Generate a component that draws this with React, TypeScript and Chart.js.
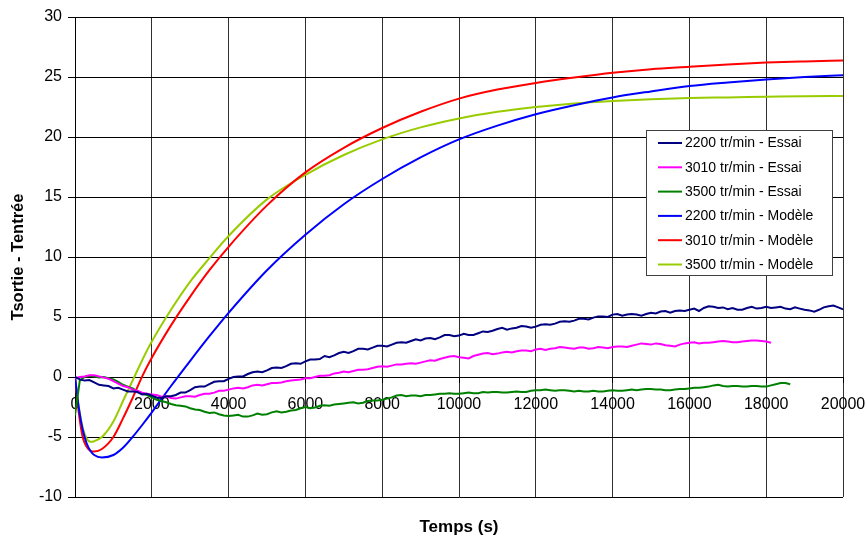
import React, { useEffect, useRef } from "react";
import { Chart, registerables } from "chart.js";

Chart.register(...registerables);

// ---- axis settings ----
const xMin = 0;
const xMax = 20000;
const xStep = 2000;
const yMin = -10;
const yMax = 30;
const yStep = 5;

// ---- series labels and colours ----
const seriesLabels = [
  "2200 tr/min - Essai",
  "3010 tr/min - Essai",
  "3500 tr/min - Essai",
  "2200 tr/min - Modèle",
  "3010 tr/min - Modèle",
  "3500 tr/min - Modèle",
];
const seriesColors = ["#000080", "#FF00FF", "#008000", "#0000FF", "#FF0000", "#99CC00"];

// ---- measured series (sampled every 125 s) ----
const essaiStep = 125;
const essai2200 = [
  0, -0.2, -0.3, -0.25, -0.45, -0.65, -0.7, -0.75, -0.95, -0.9,
  -1.05, -1.2, -1.2, -1.25, -1.45, -1.4, -1.55, -1.7, -1.75, -1.6,
  -1.6, -1.5, -1.3, -1.3, -1.1, -0.85, -0.8, -0.8, -0.6, -0.4,
  -0.35, -0.35, -0.15, 0.0, 0.05, 0.05, 0.25, 0.4, 0.45, 0.4,
  0.55, 0.75, 0.8, 0.75, 0.9, 1.1, 1.15, 1.1, 1.3, 1.45,
  1.45, 1.5, 1.75, 1.65, 1.8, 2.0, 2.1, 2.0, 2.15, 2.35,
  2.35, 2.3, 2.45, 2.6, 2.6, 2.55, 2.7, 2.85, 2.9, 2.85,
  3.0, 3.15, 3.05, 3.2, 3.25, 3.15, 3.3, 3.5, 3.5, 3.4,
  3.45, 3.6, 3.5, 3.5, 3.65, 3.8, 3.75, 3.85, 4.0, 4.1,
  3.95, 4.05, 4.1, 4.25, 4.2, 4.1, 4.2, 4.35, 4.4, 4.35,
  4.45, 4.6, 4.65, 4.6, 4.7, 4.85, 4.85, 4.8, 4.95, 5.05,
  5.05, 5.0, 5.2, 5.25, 5.1, 5.2, 5.25, 5.2, 5.1, 5.25,
  5.35, 5.3, 5.45, 5.5, 5.35, 5.5, 5.55, 5.5, 5.6, 5.7,
  5.5, 5.75, 5.9, 5.85, 5.75, 5.8, 5.65, 5.75, 5.6, 5.6,
  5.75, 5.85, 5.7, 5.75, 5.85, 5.75, 5.8, 5.85, 5.7, 5.65,
  5.8, 5.7, 5.6, 5.55, 5.45, 5.6, 5.8, 5.9, 5.95, 5.8,
  5.65,
];
const essai3010 = [
  -0.1, 0.0, 0.05, 0.15, 0.15, 0.05, -0.05, -0.15, -0.35, -0.55,
  -0.75, -0.85, -1.05, -1.15, -1.3, -1.4, -1.45, -1.5, -1.65, -1.6,
  -1.75, -1.8, -1.7, -1.6, -1.6, -1.65, -1.5, -1.4, -1.4, -1.3,
  -1.15, -1.15, -1.05, -0.95, -0.9, -0.95, -0.85, -0.7, -0.65, -0.7,
  -0.6, -0.5, -0.5, -0.45, -0.35, -0.3, -0.25, -0.2, -0.1, -0.1,
  0.0, 0.1, 0.1, 0.15, 0.3, 0.35, 0.45, 0.4, 0.5, 0.6,
  0.6, 0.65, 0.75, 0.85, 0.9, 0.85, 0.95, 1.05, 1.05, 1.1,
  1.15, 1.1, 1.2, 1.3, 1.4, 1.35, 1.5, 1.6, 1.7, 1.75,
  1.65, 1.6, 1.55, 1.75, 1.85, 1.95, 2.0, 1.9, 1.95, 2.05,
  2.1, 2.05, 2.15, 2.2, 2.2, 2.15, 2.3, 2.35, 2.25, 2.35,
  2.4, 2.5, 2.45, 2.4, 2.35, 2.45, 2.45, 2.35, 2.4, 2.5,
  2.45, 2.4, 2.5, 2.55, 2.55, 2.5, 2.6, 2.7, 2.8, 2.75,
  2.7, 2.8, 2.75, 2.65, 2.6, 2.55, 2.7, 2.8, 2.85, 2.9,
  2.8, 2.85, 2.85, 2.9, 2.95, 3.0, 2.95, 2.9, 2.9, 2.95,
  3.0, 3.05, 3.05, 3.0, 2.95, 2.85,
];
const essai3500 = [
  -3.2, -0.3, 0.0, 0.1, 0.05, -0.05, 0.0, -0.1, -0.2, -0.4,
  -0.65, -0.8, -0.95, -1.2, -1.4, -1.5, -1.7, -1.9, -2.0, -2.1,
  -2.25, -2.35, -2.4, -2.45, -2.6, -2.7, -2.75, -2.9, -3.0, -2.95,
  -3.1, -3.2, -3.25, -3.2, -3.15, -3.3, -3.3, -3.2, -3.05, -3.15,
  -3.1, -2.95, -2.85, -2.95, -2.9, -2.8, -2.75, -2.6, -2.5, -2.6,
  -2.55, -2.4, -2.35, -2.4, -2.3, -2.25, -2.2, -2.15, -2.1, -2.2,
  -2.15, -2.0, -1.95, -1.95, -1.9, -1.8, -1.7, -1.55, -1.5, -1.6,
  -1.55, -1.55, -1.6, -1.5, -1.5, -1.45, -1.4, -1.4, -1.35, -1.4,
  -1.4, -1.35, -1.3, -1.35, -1.35, -1.25, -1.3, -1.25, -1.25, -1.3,
  -1.3, -1.25, -1.2, -1.25, -1.25, -1.15, -1.1, -1.1, -1.05, -1.1,
  -1.15, -1.1, -1.1, -1.15, -1.2, -1.15, -1.2, -1.2, -1.15, -1.2,
  -1.2, -1.15, -1.1, -1.15, -1.15, -1.1, -1.05, -1.1, -1.05, -1.0,
  -1.0, -1.05, -1.05, -1.1, -1.1, -1.05, -1.0, -1.0, -0.95, -0.9,
  -0.9, -0.85, -0.8, -0.7, -0.65, -0.75, -0.8, -0.75, -0.75, -0.8,
  -0.8, -0.75, -0.75, -0.8, -0.8, -0.7, -0.6, -0.5, -0.5, -0.6,
];

// ---- model series ----
const modelTimes = [
  0, 100, 200, 300, 400, 500, 700, 1000, 1250, 1500, 1750, 2000, 2500, 3000, 3500, 4000,
  5000, 6000, 7000, 8000, 9000, 10000, 11000, 12000, 13000, 14000, 15000, 16000, 17000, 18000, 19000, 20000,
];
const modele2200 = [
  0, -2.6, -4.4, -5.5, -6.15, -6.5, -6.7, -6.5, -5.9, -5.0, -4.0, -2.95, -0.75, 1.35, 3.4, 5.35,
  8.9, 11.86, 14.4, 16.5, 18.3, 19.8, 20.95, 21.9, 22.65, 23.3, 23.8, 24.25, 24.55, 24.8, 25.0, 25.15,
];
const modele3010 = [
  0, -3.0, -5.0, -5.8, -6.15, -6.2, -6.0, -5.0, -3.45, -1.75, 0.05, 1.6, 4.3, 6.7, 8.9, 10.85,
  14.3, 17.05, 19.1, 20.75, 22.1, 23.2, 23.95, 24.5, 24.95, 25.35, 25.65, 25.85, 26.05, 26.2, 26.3, 26.38,
];
const modele3500 = [
  0, -2.5, -4.2, -5.1, -5.4, -5.35, -5.0, -3.7, -2.0, -0.3, 1.4, 2.95, 5.6, 7.95, 9.9, 11.75,
  14.8, 16.85, 18.5, 19.8, 20.8, 21.55, 22.1, 22.5, 22.8, 23.0, 23.15, 23.25, 23.3, 23.35, 23.4, 23.42,
];

const xTitle = "Temps (s)";
const yTitle = "Tsortie - Tentrée";

const FONT = '"Liberation Sans", Arial, Helvetica, sans-serif';

function essaiPoints(values: number[]) {
  return values.map((v, i) => ({ x: i * essaiStep, y: v }));
}
function modelPoints(values: number[]) {
  return values.map((v, i) => ({ x: modelTimes[i], y: v }));
}

const boxLegend = {
  id: "boxLegend",
  afterDatasetsDraw(chart: any) {
    const ctx = chart.ctx;
    ctx.save();
    const x0 = 646.5;
    const y0 = 130.5;
    const w = 186;
    const h = 145;
    ctx.fillStyle = "#ffffff";
    ctx.fillRect(x0, y0, w, h);
    ctx.strokeStyle = "#404040";
    ctx.lineWidth = 1;
    ctx.strokeRect(x0, y0, w, h);
    ctx.font = `14px ${FONT}`;
    ctx.textBaseline = "middle";
    ctx.textAlign = "left";
    chart.data.datasets.forEach((ds: any, i: number) => {
      const y = 143 + i * 24.3;
      ctx.strokeStyle = ds.borderColor;
      ctx.lineWidth = 2;
      ctx.beginPath();
      ctx.moveTo(658, y);
      ctx.lineTo(682, y);
      ctx.stroke();
      ctx.fillStyle = "#000";
      ctx.fillText(ds.label, 685, y + 0.5);
    });
    ctx.restore();
  },
};

const bottomTitle = {
  id: "bottomTitle",
  afterDraw(chart: any) {
    const ctx = chart.ctx;
    const area = chart.chartArea;
    ctx.save();
    ctx.font = `bold 17px ${FONT}`;
    ctx.fillStyle = "#000";
    ctx.textAlign = "center";
    ctx.textBaseline = "middle";
    ctx.fillText(xTitle, (area.left + area.right) / 2, 527);
    ctx.restore();
  },
};

export default function App() {
  const canvasRef = useRef<HTMLCanvasElement | null>(null);

  useEffect(() => {
    const canvas = canvasRef.current;
    if (!canvas) return;
    const essai = [essai2200, essai3010, essai3500];
    const models = [modele2200, modele3010, modele3500];
    const datasets: any[] = [];
    essai.forEach((vals, i) => {
      datasets.push({
        label: seriesLabels[i],
        data: essaiPoints(vals),
        borderColor: seriesColors[i],
        backgroundColor: seriesColors[i],
        borderWidth: 2,
        pointRadius: 0,
        tension: 0,
        fill: false,
      });
    });
    models.forEach((vals, i) => {
      datasets.push({
        label: seriesLabels[i + 3],
        data: modelPoints(vals),
        borderColor: seriesColors[i + 3],
        backgroundColor: seriesColors[i + 3],
        borderWidth: 2,
        pointRadius: 0,
        cubicInterpolationMode: "monotone",
        fill: false,
      });
    });

    const chart = new Chart(canvas, {
      type: "line",
      data: { datasets },
      plugins: [boxLegend, bottomTitle],
      options: {
        animation: false,
        responsive: false,
        maintainAspectRatio: false,
        devicePixelRatio: 1,
        layout: { padding: { left: 0, top: 17, right: 24, bottom: 41 } },
        plugins: {
          legend: { display: false },
          tooltip: { enabled: false },
          title: { display: false },
        },
        scales: {
          x: {
            type: "linear",
            min: xMin,
            max: xMax,
            position: { y: 0 } as any,
            ticks: {
              stepSize: xStep,
              color: "#000",
              font: { family: FONT, size: 16 },
              padding: 13,
              maxRotation: 0,
              autoSkip: false,
              callback: (v: any) => String(v),
            },
            grid: {
              color: "#303030",
              lineWidth: 1,
              drawTicks: true,
              tickLength: 5,
              tickColor: "#000",
            },
            border: { display: true, color: "#000", width: 1 },
            afterFit: (scale: any) => {
              scale.paddingLeft = 0;
              scale.paddingRight = 0;
            },
          },
          y: {
            type: "linear",
            min: yMin,
            max: yMax,
            position: "left",
            ticks: {
              stepSize: yStep,
              color: "#000",
              font: { family: FONT, size: 16 },
              padding: 6,
              callback: (v: any) => String(v),
            },
            grid: {
              color: "#000",
              lineWidth: 1,
              drawTicks: true,
              tickLength: 7,
              tickColor: "#000",
            },
            border: { display: true, color: "#000", width: 1 },
            title: {
              display: true,
              text: yTitle,
              color: "#000",
              font: { family: FONT, size: 16.5, weight: "bold" },
              padding: { top: 9, bottom: 0 },
            },
            afterFit: (scale: any) => {
              scale.width = 75;
            },
          },
        },
      },
    });
    return () => chart.destroy();
  }, []);

  return (
    <div style={{ position: "fixed", left: 0, top: 0, width: 867, height: 538, background: "#fff" }}>
      <canvas ref={canvasRef} width={867} height={538} style={{ width: 867, height: 538, display: "block" }} />
    </div>
  );
}
